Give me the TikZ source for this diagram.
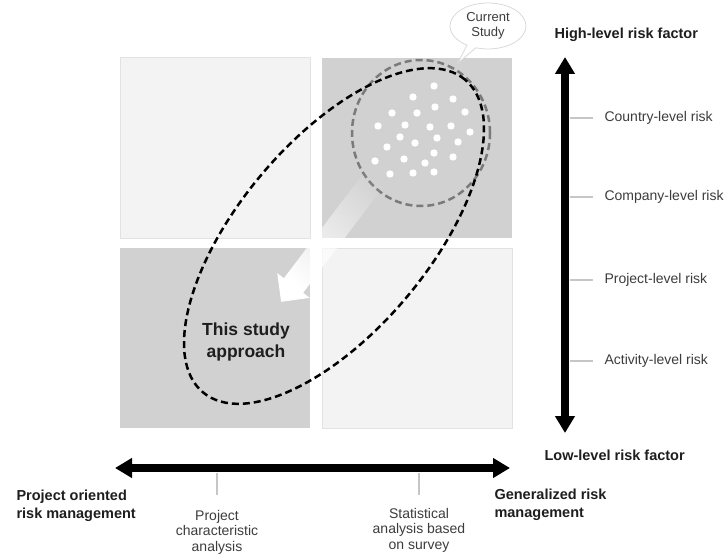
\documentclass[tikz,border=0pt]{standalone}
\usepackage{fontspec}
\setmainfont{Liberation Sans}
\usepackage{xcolor}
\usepackage{tikz}
\usetikzlibrary{shapes,shapes.callouts,arrows.meta,positioning,fadings}

\definecolor{quadlight}{HTML}{F3F3F3}
\definecolor{quadedge}{HTML}{E2E2E2}
\definecolor{quaddark}{HTML}{D2D1D1}
\definecolor{tickgray}{HTML}{C6C6C6}
\definecolor{circlegray}{HTML}{7A7A7A}
\definecolor{labeltext}{HTML}{3C3C3C}
\definecolor{headtext}{HTML}{1E1E1E}

\begin{document}
\begin{tikzpicture}[
    x=1pt, y=-1pt,
    quad/.style={minimum width=190pt, minimum height=180pt, inner sep=0pt, outer sep=0pt},
    lightquad/.style={quad, fill=quadlight, draw=quadedge, line width=1pt},
    darkquad/.style={quad, fill=quaddark},
    risklabel/.style={anchor=west, font=\fontsize{14}{16}\selectfont, text=labeltext},
    headlabel/.style={font=\bfseries\fontsize{14.5}{18}\selectfont, text=headtext, align=left},
    methodlabel/.style={font=\fontsize{14}{15.5}\selectfont, text=labeltext, align=center},
    bigarrow/.style={line width=8pt, {Triangle[length=17pt,width=19pt]}-{Triangle[length=17pt,width=19pt]}},
    tickline/.style={draw=tickgray, line width=2.5pt},
    dashline/.style={line width=2.5pt, dash pattern=on 7pt off 4pt},
]
\useasboundingbox (0,0) rectangle (728,556);

% quadrants
\node[lightquad] (q1) at (215,148) {};
\node[darkquad, right=12pt of q1] (q2) {};
\node[darkquad, below=10pt of q1] (q3) {};
\node[lightquad, right=12pt of q3] (q4) {};

% current study cluster
\draw[dashline, circlegray] (421,133) ellipse [x radius=69pt, y radius=73pt];
\foreach \px/\py in {434/86, 413/97, 453/99, 392/113, 417/113, 435/107, 465/112,
    378/126, 405/125, 430/127, 451/126, 470/132, 400/137, 415/143, 437/138,
    458/142, 387/147, 434/153, 375/161, 404/159, 425/163, 453/157, 390/174,
    413/173, 434/172}
  \fill[white] (\px,\py) circle [radius=3.7pt];

% study scope
\draw[dashline, black, rotate around={50:(334,236)}] (334,236) ellipse [x radius=204pt, y radius=95pt];

% shift arrow
\fill[white, path fading=east, fading angle=52.8]
  (374.4,158.7) -- (283.9,278.2) -- (277.2,273.1) -- (281.1,301.8)
  -- (309.8,297.9) -- (303.1,292.8) -- (393.6,173.3) -- cycle;

\node[headlabel, align=center, font=\bfseries\fontsize{17.5}{22}\selectfont] (approach) at (246,342) {This study\\approach};

\node[ellipse callout, draw=gray!30, fill=white, line width=0.8pt, minimum width=76pt, minimum height=46pt,
      inner sep=0pt, callout absolute pointer={(458,63)}, align=center,
      font=\fontsize{13}{15}\selectfont, text=labeltext] (current) at (488,26) {Current\\Study};

% risk factor axis
\coordinate (vtop) at (565,57);
\coordinate (vbot) at (565,433);
\draw[bigarrow] (vbot) -- (vtop);
\node[headlabel, anchor=west] (high) at (551,35) {High-level risk factor};
\node[headlabel, anchor=west] (low) at (541,455) {Low-level risk factor};

\foreach \ly/\lname/\ltext in {118/country/Country-level risk, 197/company/Company-level risk,
    280/project/Project-level risk, 361/activity/Activity-level risk} {
  \draw[tickline] (570,\ly) -- (593,\ly);
  \node[risklabel] (\lname) at (601,\ly) {\ltext};
}

% management axis
\coordinate (hleft) at (115,468);
\coordinate (hright) at (510,468);
\draw[bigarrow] (hleft) -- (hright);
\node[headlabel, anchor=west] (oriented) at (13,506) {Project oriented\\risk management};
\node[headlabel, anchor=west] (general) at (491,505) {Generalized risk\\management};

\draw[tickline] (217,473) -- (217,495);
\draw[tickline] (419,473) -- (419,495);
\node[methodlabel] (charact) at (217,532) {Project\\characteristic\\analysis};
\node[methodlabel] (survey) at (419,530) {Statistical\\analysis based\\on survey};
\end{tikzpicture}
\end{document}
